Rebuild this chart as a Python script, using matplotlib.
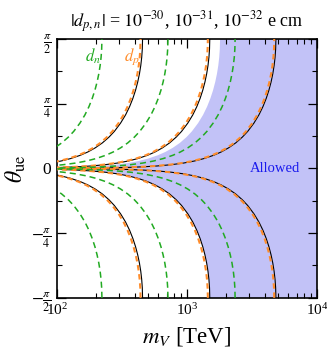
import numpy as np
import matplotlib
matplotlib.use('Agg')
import matplotlib.pyplot as plt
from matplotlib.ticker import FixedLocator, LogLocator, NullFormatter

# shape of one contour (upper half):
# theta_ue in rad, and m_V divided by m_V at theta = pi/2
theta_profile = [1.5708, 1.45, 1.35, 1.25, 1.15, 1.05, 0.95, 0.85, 0.75,
                 0.65, 0.55, 0.45, 0.38, 0.31, 0.25, 0.20, 0.16, 0.12,
                 0.09, 0.065, 0.045, 0.03, 0.02, 0.012, 0.007, 0.004,
                 0.002, 0.001, 0.0004]
ratio_profile = [1.0, 0.9956, 0.9854, 0.9691, 0.9467, 0.9182, 0.8835,
                 0.8423, 0.7946, 0.7400, 0.6772, 0.6069, 0.5515, 0.4906,
                 0.4324, 0.3793, 0.3322, 0.2798, 0.2355, 0.1940, 0.1555,
                 0.1220, 0.0957, 0.0706, 0.0509, 0.0365, 0.0240, 0.0158,
                 0.0091]

# m_V [TeV] where each contour meets theta = +-pi/2
m_total = [456, 1500, 4840]
m_dp = [440, 1450, 4700]
m_dn = [222, 715, 2350]
m_allowed_upper = 1800
m_allowed_lower = 1500

plt.rcParams['font.family'] = ['Liberation Serif', 'DejaVu Serif']
plt.rcParams['mathtext.fontset'] = 'stix'


def full_curve(m_top):
    th = np.array(theta_profile)
    r = np.array(ratio_profile)
    thetas = np.concatenate([-th, th[::-1]])
    ms = np.concatenate([r, r[::-1]]) * m_top
    return ms, thetas


def main():
    fig = plt.figure(figsize=(3.27, 3.55), dpi=100)
    ax = fig.add_axes([0.174, 0.161, 0.795, 0.729])

    # allowed region
    th = np.array(theta_profile)
    r = np.array(ratio_profile)
    up_m = r * m_allowed_upper
    lo_m = r[::-1] * m_allowed_lower
    xs = np.concatenate([up_m, lo_m, [1e5, 1e5]])
    ys = np.concatenate([th, -th[::-1], [-np.pi / 2, np.pi / 2]])
    ax.fill(xs, ys, color='#c2c2f7', lw=0, zorder=0)

    for m in m_total:
        x, y = full_curve(m)
        ax.plot(x, y, color='black', lw=0.8, zorder=2)
    for m in m_dp:
        x, y = full_curve(m)
        ax.plot(x, y, color='#ff8c2a', lw=1.5, ls=(0, (2.6, 1.8)), zorder=3)
    for m in m_dn:
        x, y = full_curve(m)
        ax.plot(x, y, color='#22aa22', lw=1.1, ls=(0, (4, 2.6)), zorder=3)

    ax.set_xscale('log')
    ax.set_xlim(100, 1e4)
    ax.set_ylim(-np.pi / 2, np.pi / 2)

    ax.text(4800, 0.0, 'Allowed', color='#1919ee', fontsize=10.5,
            ha='center', va='center')
    ax.text(188, 1.36, r'$d_n$', color='#22aa22', fontsize=12,
            ha='center', va='center')
    ax.text(375, 1.36, r'$d_p$', color='#ff8c2a', fontsize=12,
            ha='center', va='center')

    ax.set_title(r'$|d_{p,n}|$ = $10^{-30}$, $10^{-31}$, $10^{-32}$ e cm',
                 fontsize=13, pad=9)
    ax.set_xlabel(r'$m_V$ [TeV]', fontsize=16.5, labelpad=5)
    ax.set_ylabel(r'$\theta_{\rm ue}$', fontsize=17, labelpad=2)

    ax.yaxis.set_major_locator(FixedLocator(
        [-np.pi / 2, -np.pi / 4, 0, np.pi / 4, np.pi / 2]))
    ax.set_yticklabels([r'$-\frac{\pi}{2}$', r'$-\frac{\pi}{4}$', '0',
                        r'$\frac{\pi}{4}$', r'$\frac{\pi}{2}$'])
    ax.yaxis.set_minor_locator(FixedLocator(
        [-3 * np.pi / 8, -np.pi / 8, np.pi / 8, 3 * np.pi / 8]))
    ax.xaxis.set_major_locator(LogLocator(base=10))
    ax.xaxis.set_minor_locator(LogLocator(base=10, subs=np.arange(2, 10)))
    ax.xaxis.set_minor_formatter(NullFormatter())

    ax.tick_params(which='both', direction='in', top=True, right=True)
    ax.tick_params(axis='x', labelsize=11, pad=3)
    ax.tick_params(axis='y', labelsize=12.5, pad=4)
    ax.tick_params(which='major', length=6.5, width=0.9)
    ax.tick_params(which='minor', length=3.5, width=0.8)
    for s in ax.spines.values():
        s.set_linewidth(1.2)

    fig.savefig('out.png', dpi=100)


if __name__ == "__main__":
    main()
